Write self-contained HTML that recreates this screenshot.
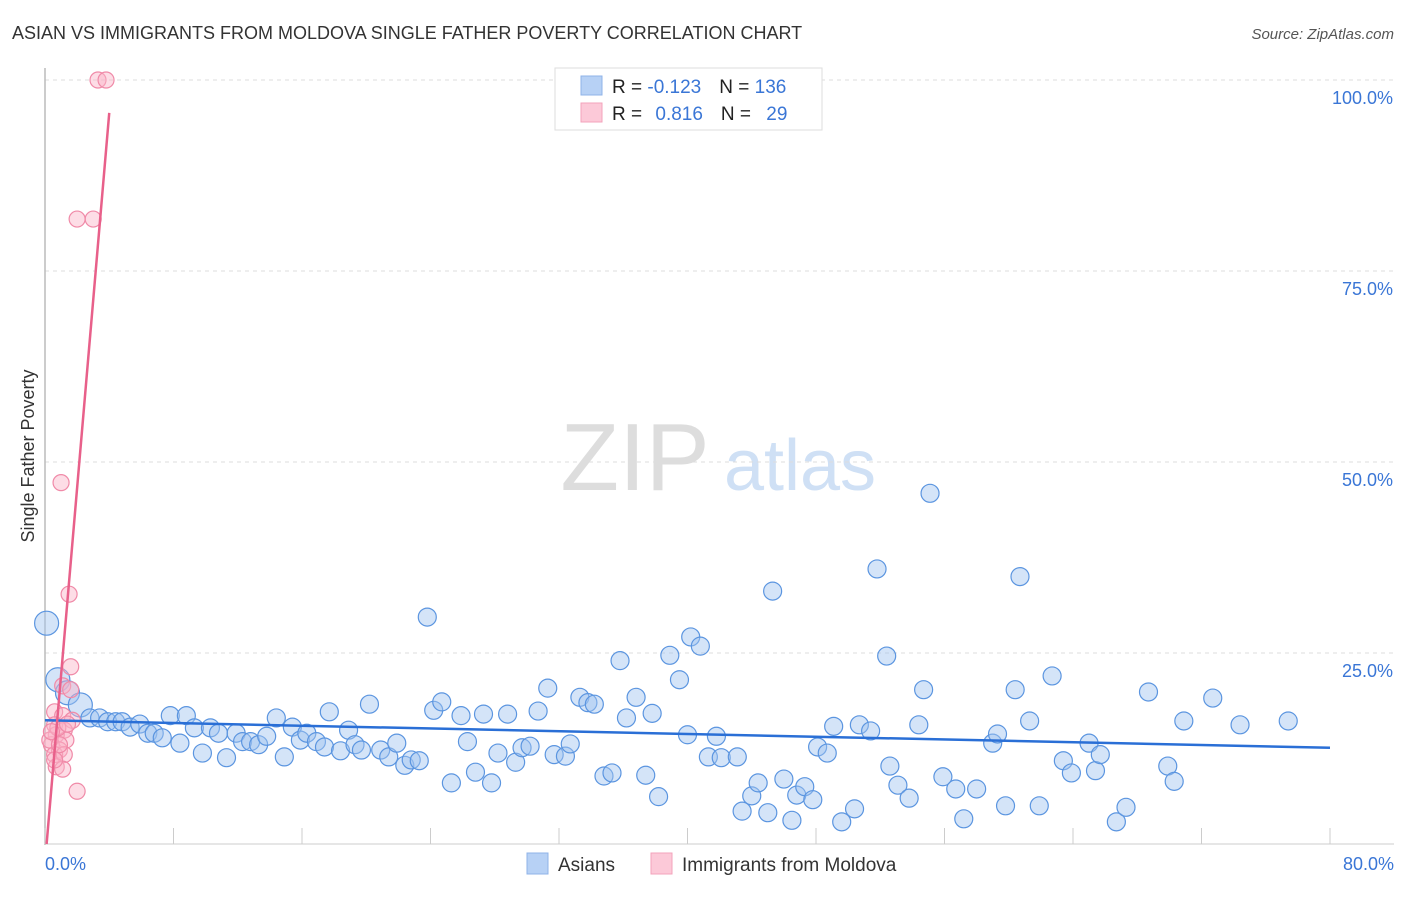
<!DOCTYPE html>
<html><head><meta charset="utf-8"><style>
body{margin:0;background:#fff;font-family:"Liberation Sans",sans-serif}
svg text{font-family:"Liberation Sans",sans-serif}
</style></head><body>
<svg id="chart" width="1406" height="892" xmlns="http://www.w3.org/2000/svg">
<text x="12" y="39" font-size="18" fill="#333">ASIAN VS IMMIGRANTS FROM MOLDOVA SINGLE FATHER POVERTY CORRELATION CHART</text>
<text x="1394" y="39" font-size="15" fill="#555" text-anchor="end" font-style="italic">Source: ZipAtlas.com</text>
<g>
<text x="635" y="490" font-size="96" fill="#ddd" text-anchor="middle" font-family="Liberation Serif, serif">ZIP</text>
<text x="800" y="490" font-size="72" fill="#cfe0f5" text-anchor="middle">atlas</text>
</g>
<g id="grid"></g>
<line x1="45" y1="68" x2="45" y2="845" stroke="#bbb" stroke-width="1.5"/>
<line x1="45" y1="844" x2="1394" y2="844" stroke="#ccc" stroke-width="1"/>
<g id="xticks"></g>
<text transform="translate(34,456) rotate(-90)" font-size="18" fill="#333" text-anchor="middle">Single Father Poverty</text>
<text x="45" y="870" font-size="18" fill="#3a76d6">0.0%</text>
<text x="1394" y="870" font-size="18" fill="#3a76d6" text-anchor="end">80.0%</text>
<g id="pts"></g>
<g id="trends"></g>
<g>
<rect x="555" y="68" width="267" height="62" fill="#fff" stroke="#ddd"/>
<rect x="581" y="76" width="21" height="19" fill="#b7d1f5" stroke="#8fb3e8"/>
<rect x="581" y="103" width="21" height="19" fill="#fcc9d8" stroke="#f3a3bb"/>
<text x="612" y="93" font-size="19" fill="#222">R = <tspan fill="#3a76d6">-0.123</tspan><tspan dx="18">N = </tspan><tspan fill="#3a76d6">136</tspan></text>
<text x="612" y="120" font-size="19" fill="#222">R = <tspan fill="#3a76d6" dx="8">0.816</tspan><tspan dx="18">N = </tspan><tspan fill="#3a76d6" dx="10">29</tspan></text>
</g>
<g>
<rect x="527" y="853" width="21" height="21" fill="#b7d1f5" stroke="#8fb3e8"/>
<text x="558" y="871" font-size="19" fill="#333">Asians</text>
<rect x="651" y="853" width="21" height="21" fill="#fcc9d8" stroke="#f3a3bb"/>
<text x="682" y="871" font-size="19" fill="#333">Immigrants from Moldova</text>
</g>
</svg>
<script>
const yTicks=[25,50,75,100];
const yTickLabels=["25.0%","50.0%","75.0%","100.0%"];
const xTicks=[0,8,16,24,32,40,48,56,64,72,80];
const blueX=[0.1,0.8,1.4,2.2,2.8,3.4,3.9,4.4,4.8,5.3,5.9,6.4,6.8,7.3,7.8,8.4,8.8,9.3,9.8,10.3,10.8,11.3,11.9,12.3,12.8,13.3,13.8,14.4,14.9,15.4,15.9,16.3,16.9,17.4,17.7,18.4,18.9,19.3,19.7,20.2,20.9,21.4,21.9,22.4,22.8,23.3,23.8,24.2,24.7,25.3,25.9,26.3,26.8,27.3,27.8,28.2,28.8,29.3,29.7,30.2,30.7,31.3,31.7,32.4,32.7,33.3,33.8,34.2,34.8,35.3,35.8,36.2,36.8,37.4,37.8,38.2,38.9,39.5,40.0,40.2,40.8,41.3,41.8,42.1,43.1,43.4,44.0,44.4,45.0,45.3,46.0,46.5,46.8,47.3,47.8,48.1,48.7,49.1,49.6,50.4,50.7,51.4,51.8,52.4,52.6,53.1,53.8,54.4,54.7,55.1,55.9,56.7,57.2,58.0,59.0,59.3,59.8,60.4,60.7,61.3,61.9,62.7,63.4,63.9,65.0,65.4,65.7,66.7,67.3,68.7,69.9,70.3,70.9,72.7,74.4,77.4];
const blueY=[28.9,21.5,19.8,18.2,16.5,16.5,16.0,16.0,16.0,15.3,15.7,14.5,14.5,13.9,16.8,13.2,16.8,15.2,11.9,15.2,14.5,11.3,14.5,13.4,13.4,13.0,14.1,16.5,11.4,15.3,13.6,14.5,13.4,12.7,17.3,12.2,14.9,13.0,12.3,18.3,12.3,11.4,13.2,10.3,11.0,10.9,29.7,17.5,18.6,8.0,16.8,13.4,9.4,17.0,8.0,11.9,17.0,10.7,12.6,12.8,17.4,20.4,11.7,11.5,13.1,19.2,18.5,18.3,8.9,9.3,24.0,16.5,19.2,9.0,17.1,6.2,24.7,21.5,14.3,27.1,25.9,11.4,14.1,11.3,11.4,4.3,6.3,8.0,4.1,33.1,8.5,3.1,6.4,7.5,5.8,12.7,11.9,15.4,2.9,4.6,15.6,14.8,36.0,24.6,10.2,7.7,6.0,15.6,20.2,45.9,8.8,7.2,3.3,7.2,13.2,14.4,5.0,20.2,35.0,16.1,5.0,22.0,10.9,9.3,13.2,9.6,11.7,2.9,4.8,19.9,10.2,8.2,16.1,19.1,15.6,16.1];
const pinkX=[3.3,3.8,2.0,3.0,1.0,1.5,1.6,1.1,1.6,0.6,1.1,1.7,0.6,1.2,0.7,1.3,0.4,0.9,0.6,1.2,0.7,1.1,2.0,0.3,0.8,1.4,0.4,0.9,0.6];
const pinkY=[100,100,81.8,81.8,47.3,32.7,23.2,20.7,20.2,17.3,16.8,16.2,15.6,14.9,14.3,13.6,13.0,12.3,11.7,11.7,10.1,9.8,6.9,13.6,15.2,15.7,14.7,13.0,11.0];
const blueTrend=[[0,16.2],[80,12.6]];
const pinkTrend=[[0.1,0],[4.0,95.7]];
const NS="http://www.w3.org/2000/svg";
const sx=v=>45+v/80*1285;
const sy=v=>844-v/100*764;
function mk(tag,attrs,parent){const e=document.createElementNS(NS,tag);for(const k in attrs)e.setAttribute(k,attrs[k]);document.getElementById(parent).appendChild(e);return e;}
yTicks.forEach((t,i)=>{
 const l=mk('line',{x1:45,x2:1394,y1:sy(t),y2:sy(t),stroke:'#ddd','stroke-dasharray':'4,4'},'grid');
 
 
 const tx=mk('text',{x:1393,y:sy(t)+24,'font-size':18,fill:'#3a76d6','text-anchor':'end'},'grid');
 tx.textContent=yTickLabels[i];
 
 
});
xTicks.forEach(t=>{
 const l=mk('line',{x1:sx(t),x2:sx(t),y1:828,y2:844,stroke:'#ccc'},'xticks');
 
 
});
blueX.forEach((x,i)=>{
 const c=mk('circle',{cx:sx(x),cy:sy(blueY[i]),r:i<4?12:9,fill:'rgba(160,196,240,0.45)',stroke:'#5b95e0','stroke-width':1.2},'pts');
 
 
});
pinkX.forEach((x,i)=>{
 const c=mk('circle',{cx:sx(x),cy:sy(pinkY[i]),r:8,fill:'rgba(250,180,200,0.45)',stroke:'#f08aa8','stroke-width':1.2},'pts');
 
 
});
const bl=mk('line',{x1:sx(blueTrend[0][0]),y1:sy(blueTrend[0][1]),x2:sx(blueTrend[1][0]),y2:sy(blueTrend[1][1]),stroke:'#2a6fd6','stroke-width':2.5},'trends');


const pl=mk('line',{x1:sx(pinkTrend[0][0]),y1:sy(pinkTrend[0][1]),x2:sx(pinkTrend[1][0]),y2:sy(pinkTrend[1][1]),stroke:'#e8608a','stroke-width':2.5},'trends');


</script>
</body></html>
